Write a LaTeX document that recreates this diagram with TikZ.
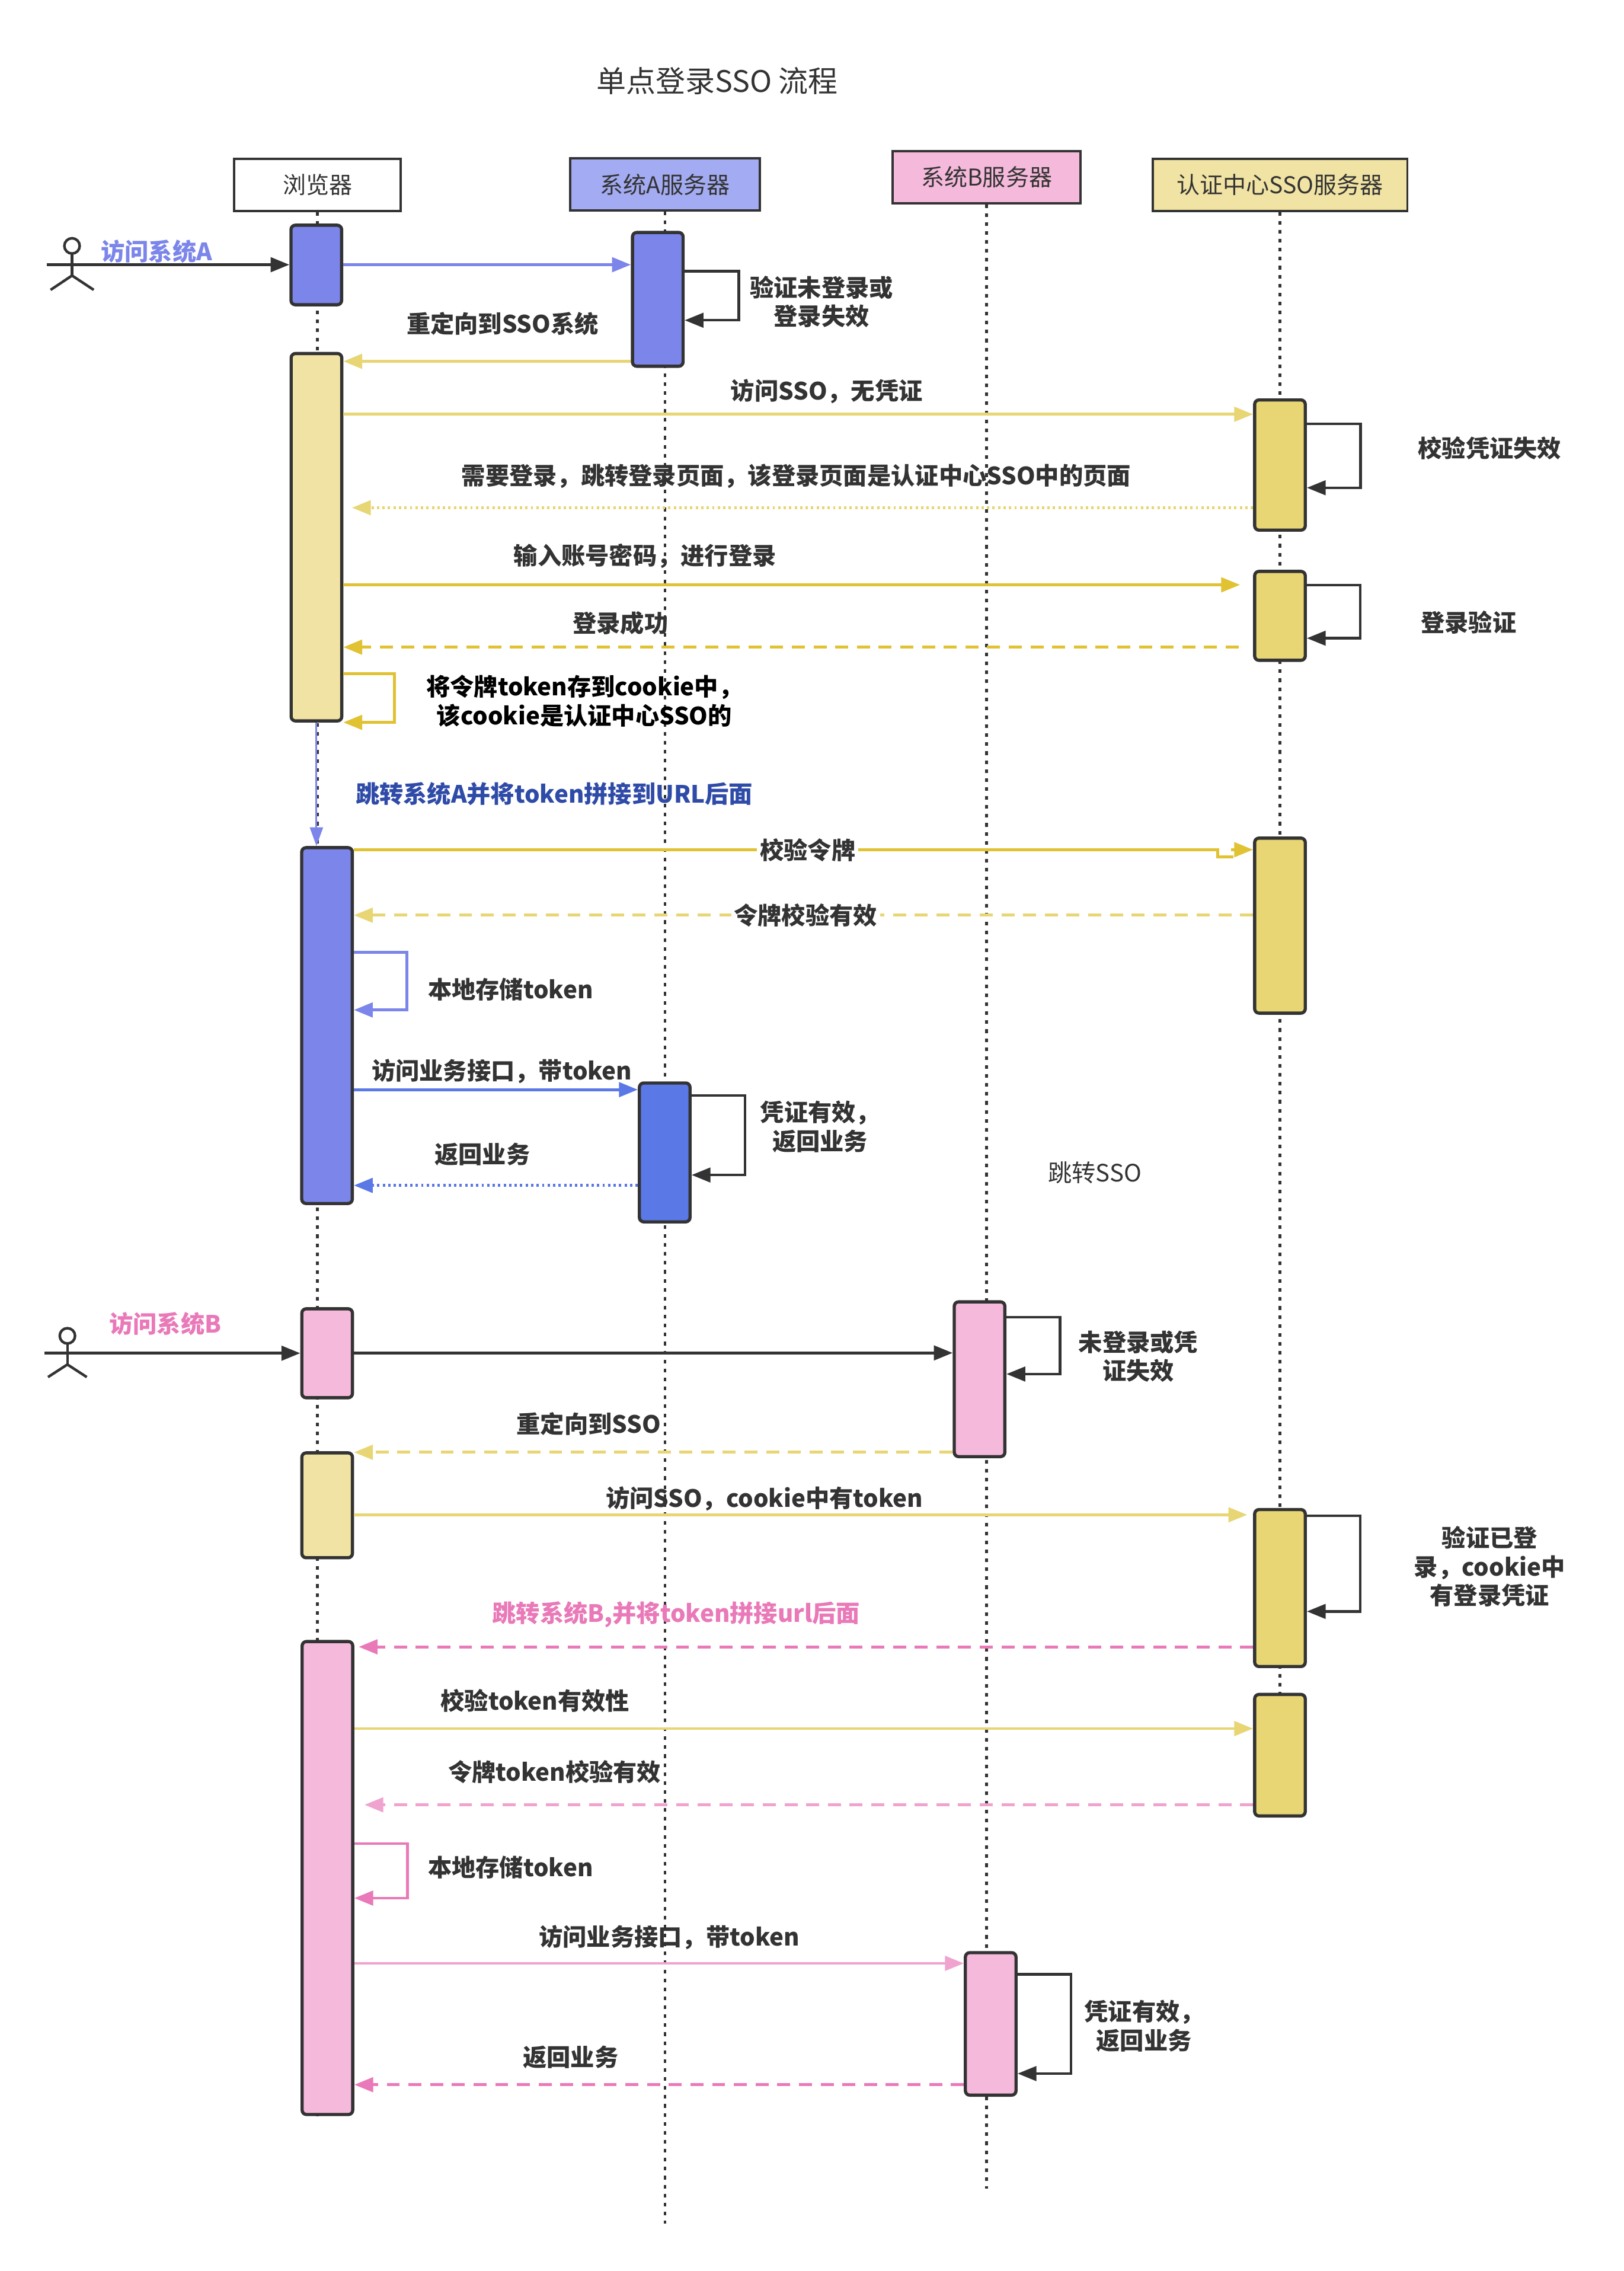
\documentclass[tikz,border=0pt]{standalone}
\usepackage{fontspec}
\setmainfont{Noto Sans CJK SC}
\usetikzlibrary{arrows.meta}
\usetikzlibrary{positioning}

\definecolor{ink}{HTML}{333333}
\definecolor{blu}{HTML}{7B85EA}
\definecolor{bluD}{HTML}{5A78E6}
\definecolor{bluH}{HTML}{A3ABF2}
\definecolor{navy}{HTML}{2F4BA8}
\definecolor{pnk}{HTML}{F5B9DB}
\definecolor{pnkD}{HTML}{E979B8}
\definecolor{pnkL}{HTML}{F0A3CF}
\definecolor{yelL}{HTML}{F0E3A3}
\definecolor{yel}{HTML}{E8D574}
\definecolor{yelD}{HTML}{E0C232}

\begin{document}
\begin{tikzpicture}[x=1pt,y=-1pt,
  every node/.style={font=\fontsize{16.5pt}{20pt}\selectfont\bfseries, text=ink, inner sep=1pt},
  head/.style={draw=ink, line width=1.6pt, minimum height=36pt, inner sep=0pt,
    font=\fontsize{16pt}{19pt}\selectfont},
  act/.style={draw=ink, line width=2.2pt, rounded corners=3pt, minimum width=35pt,
    anchor=north, inner sep=0pt},
  life/.style={draw=ink, line width=2pt, dash pattern=on 2.5pt off 3.7pt},
  msg/.style={line width=2pt, -{Triangle[length=13pt,width=10pt]}},
  self/.style={draw=ink, line width=1.8pt, -{Triangle[length=13pt,width=10pt]}},
  dashy/.style={dash pattern=on 9pt off 6pt},
  dotty/.style={dash pattern=on 1.6pt off 2.2pt},
  man/.style={draw=ink, line width=1.8pt},
]
  \path[use as bounding box, fill=white] (0,0) rectangle (1122.5,1570);

  \node[font=\fontsize{20.5pt}{24pt}\selectfont] (title) at (496,56) {单点登录SSO 流程};

  % participants
  \node[head, minimum width=115pt] (br) at (219.5,127.8) {浏览器};
  \node[head, minimum width=131pt, fill=bluH] (sa) at (459.8,127.6) {系统A服务器};
  \node[head, minimum width=130pt, fill=pnk] (sb) at (682.2,122.4) {系统B服务器};
  \node[head, minimum width=176pt, fill=yelL] (sso) at (885.1,127.8) {认证中心SSO服务器};

  \draw[life] (br.south) -- (br.south |- 0,1463);
  \draw[life] (sa.south) -- (sa.south |- 0,1537);
  \draw[life] (sb.south) -- (sb.south |- 0,1513);
  \draw[life] (sso.south) -- (sso.south |- 0,1256);

  % activations
  \node[act, fill=blu, minimum height=55pt] (br_1) at (218.7,154.6) {};
  \node[act, fill=yelL, minimum height=254pt] (br_2) at (218.8,243.3) {};
  \node[act, fill=blu, minimum height=246pt] (br_3) at (226.1,584.9) {};
  \node[act, fill=pnk, minimum height=61.5pt] (br_4) at (226.2,903.7) {};
  \node[act, fill=yelL, minimum height=72.5pt] (br_5) at (226.2,1003.3) {};
  \node[act, fill=pnk, minimum height=327pt] (br_6) at (226.4,1133.7) {};
  \node[act, fill=blu, minimum height=92.5pt] (sa_1) at (454.8,159.6) {};
  \node[act, fill=bluD, minimum height=96pt] (sa_2) at (459.6,747.6) {};
  \node[act, fill=pnk, minimum height=107pt] (sb_1) at (677.3,898.9) {};
  \node[act, fill=pnk, minimum height=98.5pt] (sb_2) at (685,1348.8) {};
  \node[act, fill=yel, minimum height=90pt] (sso_1) at (885,275.4) {};
  \node[act, fill=yel, minimum height=61.5pt] (sso_2) at (885,393.9) {};
  \node[act, fill=yel, minimum height=121pt] (sso_3) at (885,578.3) {};
  \node[act, fill=yel, minimum height=108.5pt] (sso_4) at (885,1042.5) {};
  \node[act, fill=yel, minimum height=84pt] (sso_5) at (885,1170.3) {};

  % user A
  \draw[man] (49.8,170) circle[radius=5.3pt];
  \draw[man] (49.8,175.3) -- (49.8,190.5);
  \draw[man] (35,200.4) -- (49.8,190.5) -- (64.8,200.4);
  \coordinate (usr_a) at (32.2,183);
  \draw[msg, ink] (usr_a) -- (usr_a -| br_1.west);
  \node[text=blu] (l_in_a) at (108.3,174) {访问系统A};

  \draw[msg, blu] (br_1.east |- 0,183) -- (sa_1.west |- 0,183);
  \draw[self] (sa_1.east |- 0,187.5) -- ++(37.5,0) |- (sa_1.east |- 0,221.4);
  \node[align=center] (l_chk_a) at (568,208.6) {验证未登录或\\登录失效};
  \draw[msg, yel] (sa_1.west |- 0,249.8) -- (br_2.east |- 0,249.8);
  \node (l_redir_a) at (347.5,224) {重定向到SSO系统};

  % login at SSO
  \draw[msg, yel] (br_2.east |- 0,286.4) -- (sso_1.west |- 0,286.4);
  \node (l_sso_no) at (571.6,270.7) {访问SSO，无凭证};
  \draw[self] (sso_1.east |- 0,292.9) -- ++(37.1,0) |- (sso_1.east |- 0,337.2);
  \node (l_sso_fail) at (1030,309.8) {校验凭证失效};
  \draw[msg, yel, dotty, shorten >=6pt] (sso_1.west |- 0,351) -- (br_2.east |- 0,351);
  \node (l_need) at (550.5,329) {需要登录，跳转登录页面，该登录页面是认证中心SSO中的页面};
  \draw[msg, yelD, shorten >=9pt] (br_2.east |- 0,404.3) -- (sso_2.west |- 0,404.3);
  \node (l_pwd) at (446,384.4) {输入账号密码，进行登录};
  \draw[self] (sso_2.east |- 0,404.4) -- ++(37,0) |- (sso_2.east |- 0,441.2);
  \node (l_verify) at (1015.5,430.5) {登录验证};
  \draw[msg, yelD, dashy] (856.5,447.4) -- (br_2.east |- 0,447.4);
  \node (l_ok) at (429,430.7) {登录成功};
  \draw[msg, yelD] (br_2.east |- 0,465.7) -- ++(35.5,0) |- (br_2.east |- 0,499.4);
  \node[align=center, text=black] (l_cookie) at (404,484.6) {将令牌token存到cookie中，\\该cookie是认证中心SSO的};

  % back to system A
  \draw[line width=1.3pt, blu, -{Triangle[length=13pt,width=9pt]}] (br_2.south) -- (br_2.south |- br_3.north);
  \node[text=navy, anchor=west] (l_jump_a) at (244.7,549) {跳转系统A并将token拼接到URL后面};
  \draw[line width=2pt, yelD] (br_3.east |- 0,587.5) -- (842,587.5) -- (842,592.4) -- (853,592.4);
  \draw[msg, yelD] (851,587.4) -- (sso_3.west |- 0,587.4);
  \node[fill=white, inner sep=2pt] (l_tok) at (558.5,587.5) {校验令牌};
  \draw[msg, yel, dashy] (sso_3.west |- 0,632.7) -- (br_3.east |- 0,632.7);
  \node[fill=white, inner sep=2pt] (l_tok_ok) at (557,632.7) {令牌校验有效};
  \draw[msg, blu] (br_3.east |- 0,658.5) -- ++(36.5,0) |- (br_3.east |- 0,698.2);
  \node (l_store_a) at (353,684) {本地存储token};
  \draw[msg, bluD] (br_3.east |- 0,753.3) -- (sa_2.west |- 0,753.3);
  \node (l_api_a) at (347,740.7) {访问业务接口，带token};
  \draw[self] (sa_2.east |- 0,757.4) -- ++(37,0) |- (sa_2.east |- 0,812.3);
  \node[align=center] (l_valid_a) at (567,778.9) {凭证有效，\\返回业务};
  \draw[msg, bluD, dotty] (sa_2.west |- 0,819.5) -- (br_3.east |- 0,819.5);
  \node (l_ret_a) at (333.5,798) {返回业务};
  \node[font=\fontsize{16.5pt}{20pt}\selectfont] (l_jump_sso) at (757,810.5) {跳转SSO};

  % user B
  \draw[man] (46.6,923.5) circle[radius=5.3pt];
  \draw[man] (46.6,928.8) -- (46.6,943.3);
  \draw[man] (33.2,952) -- (46.6,943.3) -- (60,952);
  \coordinate (usr_b) at (30.9,935.5);
  \draw[msg, ink] (usr_b) -- (usr_b -| br_4.west);
  \node[text=pnkD] (l_in_b) at (114.3,915.3) {访问系统B};

  \draw[msg, ink] (br_4.east |- 0,935.3) -- (sb_1.west |- 0,935.3);
  \draw[self] (sb_1.east |- 0,910.7) -- ++(37,0) |- (sb_1.east |- 0,949.9);
  \node[align=center] (l_chk_b) at (787,937.7) {未登录或凭\\证失效};
  \draw[msg, yel, dashy] (sb_1.west |- 0,1004) -- (br_5.east |- 0,1004);
  \node (l_redir_b) at (407,984.5) {重定向到SSO};
  \draw[msg, yel, shorten >=4pt] (br_5.east |- 0,1047.2) -- (sso_4.west |- 0,1047.2);
  \node (l_sso_ck) at (528.5,1036) {访问SSO，cookie中有token};
  \draw[self] (sso_4.east |- 0,1048) -- ++(37,0) |- (sso_4.east |- 0,1114);
  \node[align=center] (l_logged) at (1030,1083) {验证已登\\录，cookie中\\有登录凭证};
  \draw[msg, pnkD, dashy, shorten >=3pt] (sso_4.west |- 0,1138.5) -- (br_6.east |- 0,1138.5);
  \node[text=pnkD] (l_jump_b) at (467.5,1116) {跳转系统B,并将token拼接url后面};
  \draw[msg, yel] (br_6.east |- 0,1195) -- (sso_5.west |- 0,1195);
  \node (l_chk_tok) at (370,1175.8) {校验token有效性};
  \draw[msg, pnkL, dashy, shorten >=7pt] (sso_5.west |- 0,1247.7) -- (br_6.east |- 0,1247.7);
  \node (l_tok_b) at (383.5,1225) {令牌token校验有效};
  \draw[msg, pnkD] (br_6.east |- 0,1274.5) -- ++(36.9,0) |- (br_6.east |- 0,1312.2);
  \node (l_store_b) at (353,1291) {本地存储token};
  \draw[msg, pnkL] (br_6.east |- 0,1357.3) -- (sb_2.west |- 0,1357.3);
  \node (l_api_b) at (462.7,1339.3) {访问业务接口，带token};
  \draw[self] (sb_2.east |- 0,1364.8) -- ++(37,0) |- (sb_2.east |- 0,1433.5);
  \node[align=center] (l_valid_b) at (791,1400.7) {凭证有效，\\返回业务};
  \draw[msg, pnkD, dashy] (sb_2.west |- 0,1441.2) -- (br_6.east |- 0,1441.2);
  \node (l_ret_b) at (394.6,1422) {返回业务};
\end{tikzpicture}
\end{document}
